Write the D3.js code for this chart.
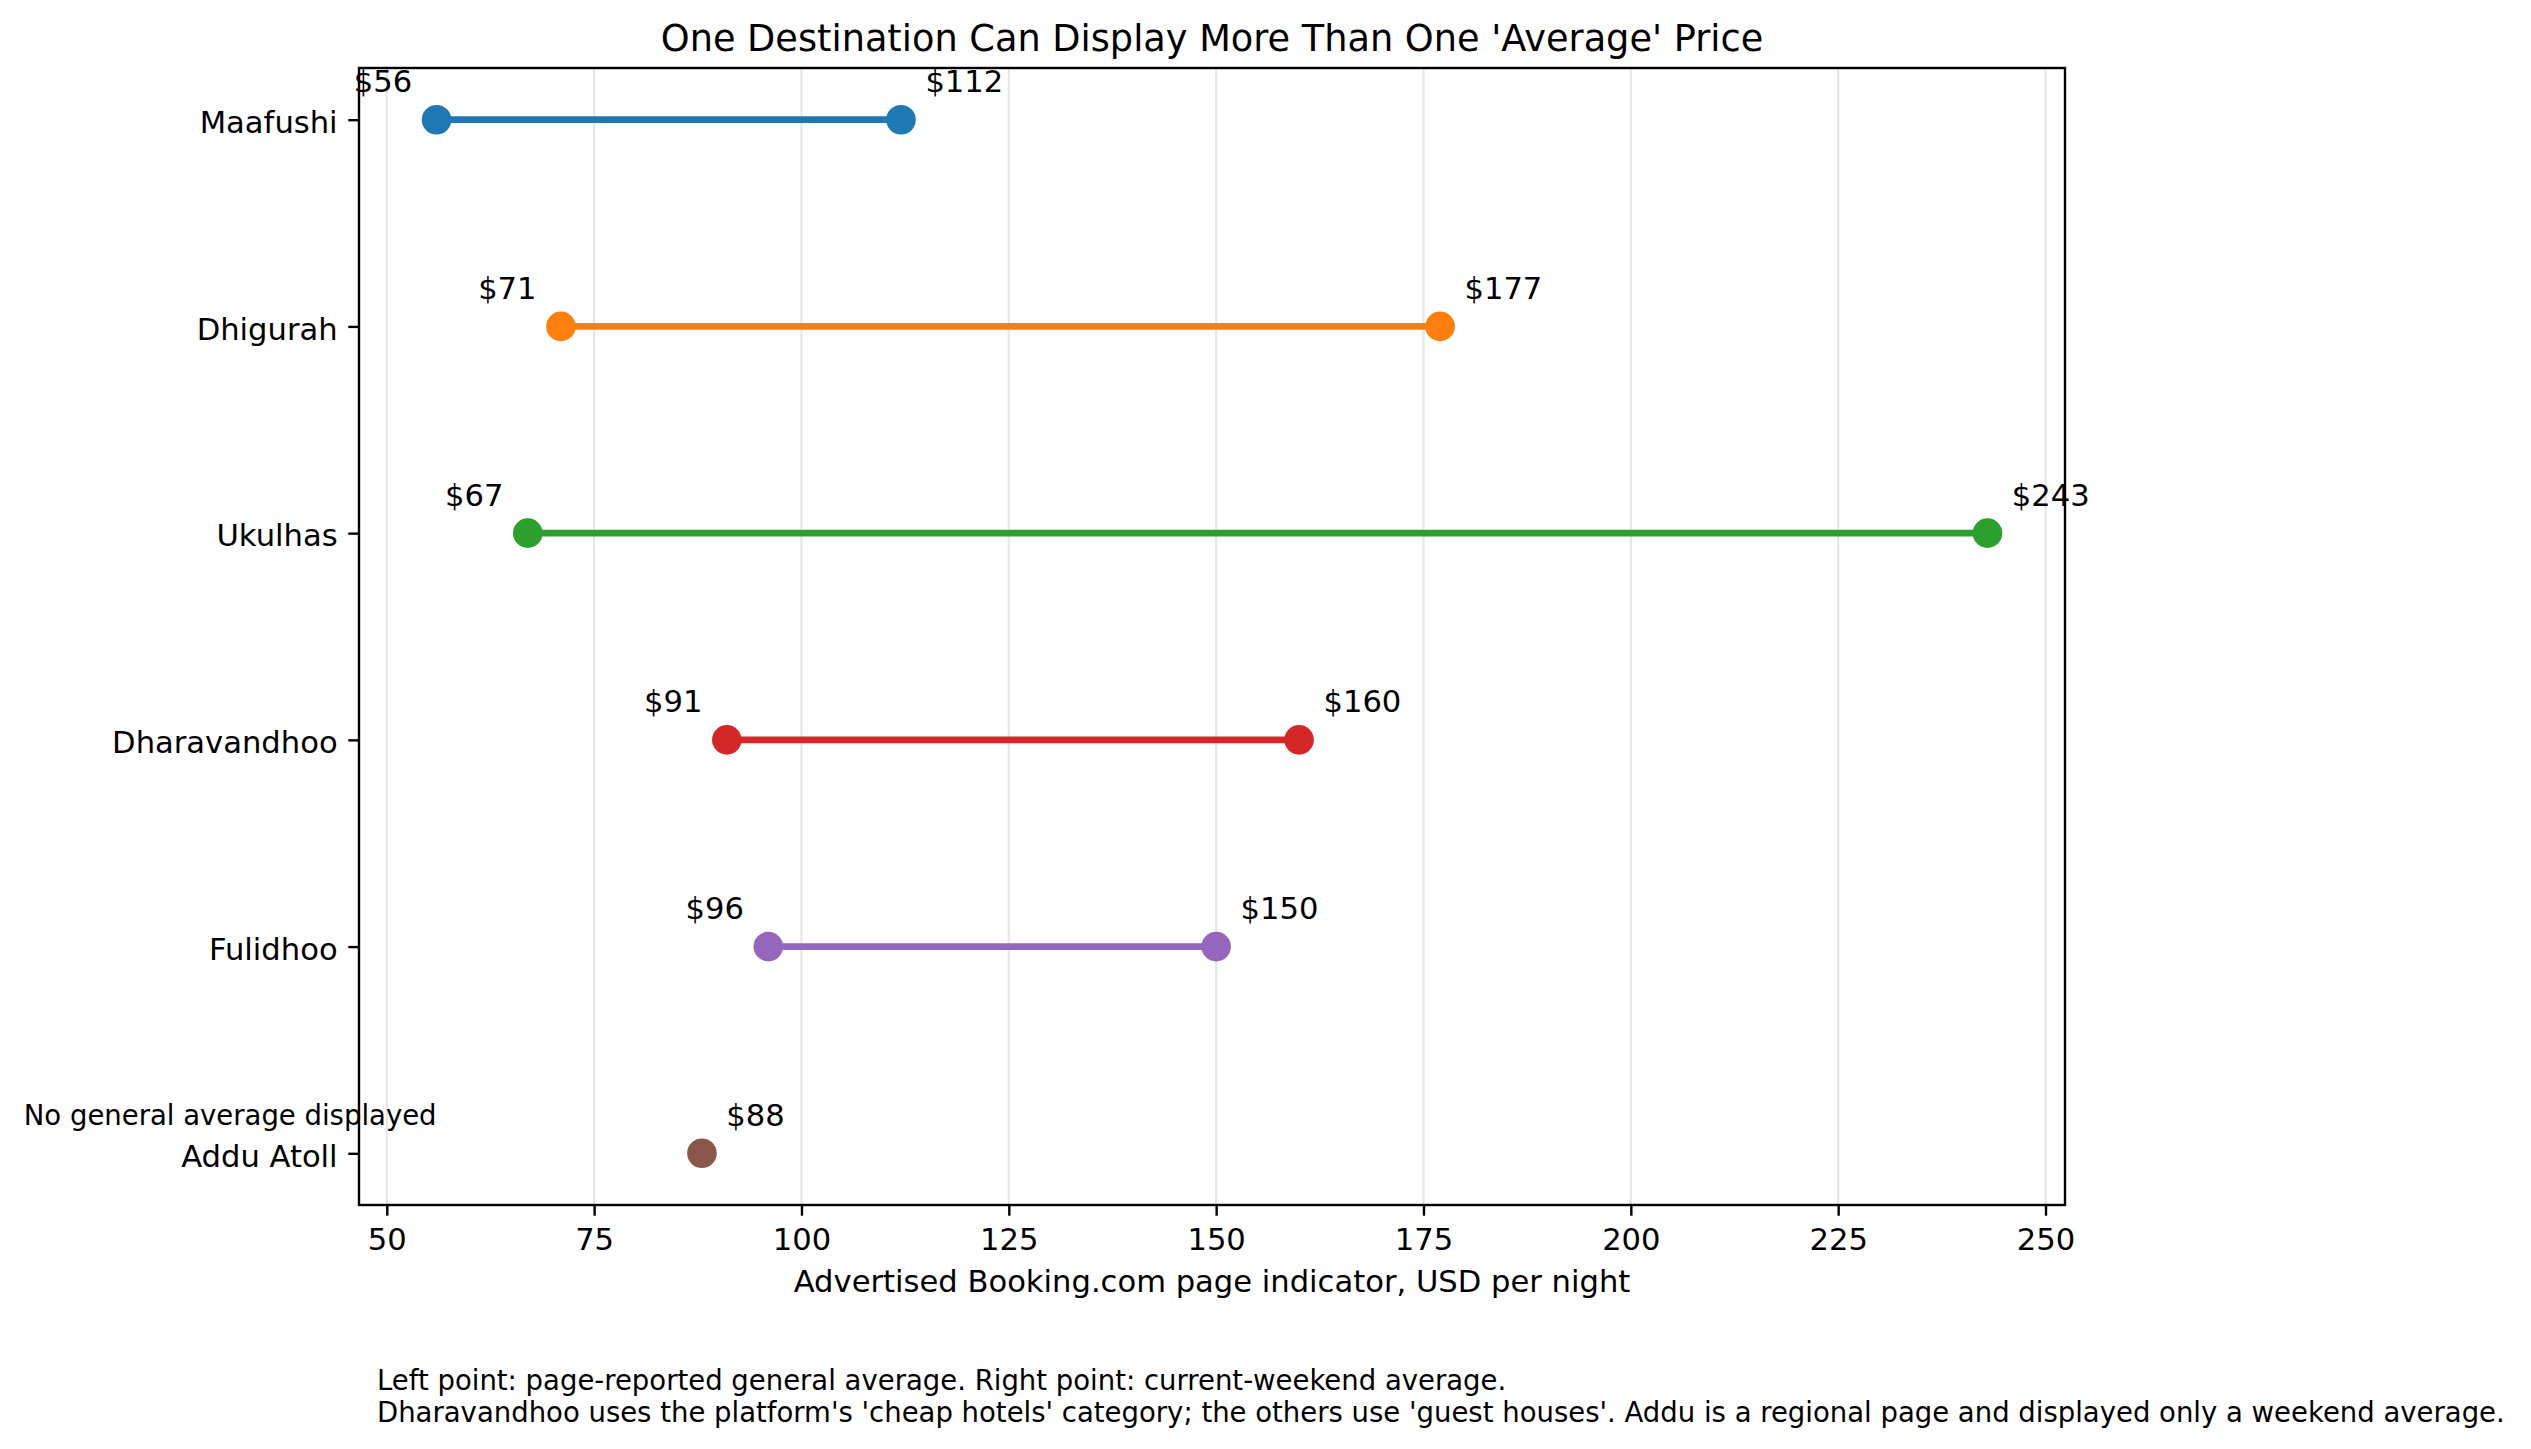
<!DOCTYPE html>
<html>
<head>
<meta charset="utf-8">
<script src="https://cdn.jsdelivr.net/npm/d3@7"></script>
<style>
  body { margin: 0; background: #fff; }
  svg text { font-family: "DejaVu Sans", sans-serif; fill: #000; }
</style>
</head>
<body>
<div id="chart"></div>
<script>
// values
const destinations = ["Maafushi", "Dhigurah", "Ukulhas", "Dharavandhoo", "Fulidhoo", "Addu Atoll"];
const generalAvg = [56, 71, 67, 91, 96, null];   // left point, page-reported general average
const weekendAvg = [112, 177, 243, 160, 150, 88]; // right point, current-weekend average
const pointColors = ["#1f77b4", "#ff7f0e", "#2ca02c", "#d62728", "#9467bd", "#8c564b"];
const xTicks = [50, 75, 100, 125, 150, 175, 200, 225, 250];

const titleText = "One Destination Can Display More Than One 'Average' Price";
const xLabel = "Advertised Booking.com page indicator, USD per night";
const noGeneralNote = "No general average displayed";
const footnotes = [
  "Left point: page-reported general average. Right point: current-weekend average.",
  "Dharavandhoo uses the platform's 'cheap hotels' category; the others use 'guest houses'. Addu is a regional page and displayed only a weekend average."
];

const W = 2531, H = 1449;
const margin = {top: 68, right: 466, bottom: 244, left: 359};
const width = W - margin.left - margin.right,
      height = H - margin.top - margin.bottom;

const svg = d3.select("#chart")
  .append("svg")
    .attr("width", W)
    .attr("height", H);

const g = svg.append("g")
    .attr("transform", "translate(" + margin.left + "," + margin.top + ")");

// matplotlib style 5% padding around the data
const allVals = generalAvg.concat(weekendAvg).filter(v => v != null);
const lo = d3.min(allVals), hi = d3.max(allVals), pad = (hi - lo) * 0.05;

const x = d3.scaleLinear()
  .domain([lo - pad, hi + pad])
  .range([0, width]);

const y = d3.scalePoint()
  .domain(destinations)
  .range([0, height])
  .padding(0.25);

// vertical grid
g.append("g")
  .selectAll("line")
  .data(xTicks)
  .enter()
  .append("line")
    .attr("x1", d => x(d))
    .attr("x2", d => x(d))
    .attr("y1", 0)
    .attr("y2", height)
    .attr("stroke", "#e6e6e6")
    .attr("stroke-width", 2.2);

// x axis
const xAxis = g.append("g")
  .attr("transform", "translate(0," + height + ")")
  .call(d3.axisBottom(x).tickValues(xTicks).tickSize(10.7).tickPadding(12.6));
xAxis.select(".domain").remove();
xAxis.selectAll(".tick line").attr("stroke", "#000").attr("stroke-width", 2.4);
xAxis.selectAll(".tick text").attr("font-size", 30.6).attr("font-family", "DejaVu Sans");

// y axis
const yAxis = g.append("g")
  .call(d3.axisLeft(y).tickSize(10.7).tickPadding(10.7));
yAxis.select(".domain").remove();
yAxis.selectAll(".tick line").attr("stroke", "#000").attr("stroke-width", 2.4);
yAxis.selectAll(".tick text")
  .attr("font-size", 30.6)
  .attr("font-family", "DejaVu Sans")
  .attr("dy", "0.42em");

// dumbbell lines
const rows = destinations.map((d, i) => ({
  name: d, general: generalAvg[i], weekend: weekendAvg[i], color: pointColors[i]
}));

g.append("g")
  .selectAll("line")
  .data(rows.filter(r => r.general != null))
  .enter()
  .append("line")
    .attr("x1", r => x(r.general))
    .attr("x2", r => x(r.weekend))
    .attr("y1", r => y(r.name))
    .attr("y2", r => y(r.name))
    .attr("stroke", r => r.color)
    .attr("stroke-width", 6.7);

// points
const pts = [];
rows.forEach(r => {
  if (r.general != null) pts.push({name: r.name, v: r.general, color: r.color, side: "left"});
  pts.push({name: r.name, v: r.weekend, color: r.color, side: "right"});
});

g.append("g")
  .selectAll("circle")
  .data(pts)
  .enter()
  .append("circle")
    .attr("cx", d => x(d.v))
    .attr("cy", d => y(d.name))
    .attr("r", 14.8)
    .attr("fill", d => d.color);

// value labels
g.append("g")
  .selectAll("text")
  .data(pts)
  .enter()
  .append("text")
    .attr("x", d => x(d.v) + (d.side == "left" ? -24.4 : 24.4))
    .attr("y", d => y(d.name) - 27.5)
    .attr("text-anchor", d => d.side == "left" ? "end" : "start")
    .attr("font-size", 30.6)
    .text(d => "$" + d.v);

// note for the row without general average
rows.filter(r => r.general == null).forEach(r => {
  g.append("text")
    .attr("x", x(d3.min(generalAvg.filter(v => v != null))))
    .attr("y", y(r.name) - 28)
    .attr("text-anchor", "end")
    .attr("font-size", 27.5)
    .text(noGeneralNote);
});

// spines
g.append("rect")
  .attr("width", width)
  .attr("height", height)
  .attr("fill", "none")
  .attr("stroke", "#000")
  .attr("stroke-width", 2.4);

// title and axis label
svg.append("text")
  .attr("x", margin.left + width / 2)
  .attr("y", 51)
  .attr("text-anchor", "middle")
  .attr("font-size", 36.7)
  .text(titleText);

svg.append("text")
  .attr("x", margin.left + width / 2)
  .attr("y", 1291.7)
  .attr("text-anchor", "middle")
  .attr("font-size", 30.6)
  .text(xLabel);

// footnote
svg.append("g")
  .selectAll("text")
  .data(footnotes)
  .enter()
  .append("text")
    .attr("x", 377)
    .attr("y", (d, i) => 1390 + i * 31.7)
    .attr("font-size", 27.5)
    .text(d => d);
</script>
</body>
</html>
